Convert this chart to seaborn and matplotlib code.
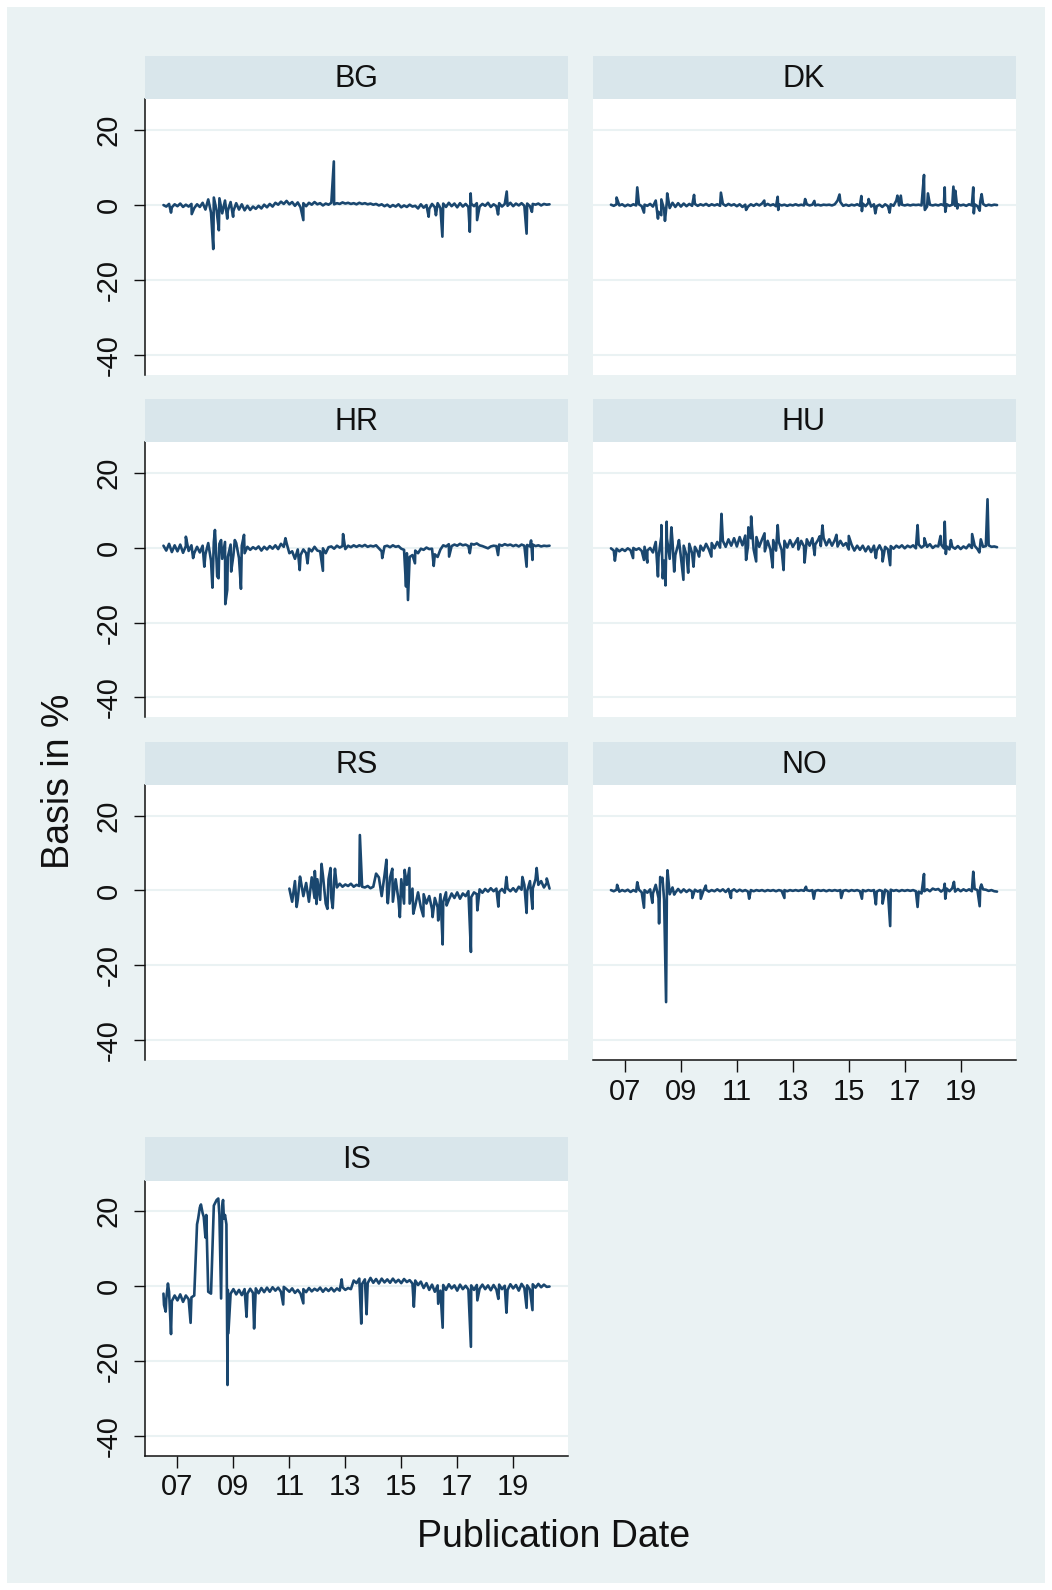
import numpy as np
import pandas as pd
import matplotlib
matplotlib.use("Agg")
import matplotlib.pyplot as plt
import seaborn as sns
from matplotlib.patches import Rectangle

# ---------------- data ----------------
countries = ["BG", "DK", "HR", "HU", "RS", "NO", "IS"]
x_tick_years = [2007, 2009, 2011, 2013, 2015, 2017, 2019]
x_tick_labels = ["07", "09", "11", "13", "15", "17", "19"]
y_ticks = [20, 0, -20, -40]
step = 0.1  # spacing (years) of the base readings

BG_start = 2006.5
BG_base = [0, -0.4, 0.3, -0.6, 0.2, -0.3, 0.4, -0.5, 0.1, -0.4,
           0.3, -0.8, 0.2, -0.5, 0.6, -1.2, 1.5, -2.0, 2.0, -1.5,
           1.8, -2.2, 1.2, -1.5, 0.8, -1.6, 0.5, -1.2, 0.2, -1.4,
           -0.2, -1.3, -0.4, -1.0, -0.2, -0.9, 0.1, -0.6, 0.3, -0.4,
           0.6, 0.1, 0.9, 0.3, 1.1, 0.2, 0.8, -0.2, 0.7, -0.6,
           0.5, -0.3, 0.6, 0.1, 0.8, 0.2, 0.5, -0.1, 0.4, 0.1,
           0.6, 0.2, 0.5, 0.3, 0.7, 0.4, 0.6, 0.3, 0.5, 0.2,
           0.6, 0.3, 0.5, 0.2, 0.4, 0.1, 0.3, -0.1, 0.2, -0.3,
           0.1, -0.5, 0.0, -0.4, 0.2, -0.6, -0.1, -0.5, 0.1, -0.4,
           -0.2, -0.9, 0.2, -0.7, 0.0, -1.0, 0.3, -0.6, 0.5, -0.8,
           0.4, -0.5, 0.6, -0.3, 0.4, -0.6, 0.5, -0.4, 0.3, -0.5,
           0.4, -0.3, 0.5, -0.4, 0.3, -0.2, 0.6, -0.5, 0.2, -0.3,
           0.5, -0.4, 0.3, -0.2, 0.6, -0.3, 0.4, -0.1, 0.5, -0.2,
           0.4, -0.3, 0.3, 0.1, 0.4, -0.1, 0.3, 0.1, 0.2]
BG_spike_dates = [2006.77, 2007.51, 2008.28, 2008.48, 2008.78, 2008.99, 2011.5, 2012.59,
                  2015.98, 2016.24, 2016.47, 2017.45, 2017.48, 2017.71, 2018.46, 2018.77,
                  2019.48, 2019.67]
BG_spike_values = [-2.0, -2.4, -11.7, -6.7, -3.6, -3.1, -4.0, 11.6,
                   -3.1, -2.7, -8.4, -7.1, 3.1, -4.0, -2.5, 3.6,
                   -7.6, -1.8]

DK_start = 2006.5
DK_base = [0.1, -0.2, 0.2, -0.1, 0.2, -0.3, 0.1, -0.2, 0.2, -0.1,
           0.2, -0.3, 0.1, -0.2, 0.3, -0.4, 1.2, -1.8, 1.5, -1.2,
           1.0, -0.8, 0.6, -0.5, 0.5, -0.4, 0.4, -0.3, 0.3, -0.2,
           0.3, -0.2, 0.2, -0.1, 0.3, -0.2, 0.2, -0.1, 0.2, -0.2,
           0.3, -0.2, 0.3, -0.1, 0.2, -0.3, 0.2, -0.5, 0.1, -0.4,
           0.2, -0.2, 0.3, -0.1, 0.4, -0.2, 0.3, -0.1, 0.2, -0.3,
           0.2, -0.1, 0.1, -0.2, 0.1, -0.1, 0.2, -0.1, 0.1, -0.1,
           0.2, -0.1, 0.1, -0.1, 0.1, -0.1, 0.1, 0.0, 0.1, -0.1,
           0.2, 1.2, 0.8, -0.2, 0.1, -0.2, 0.1, -0.1, 0.2, -0.2,
           0.4, -0.3, 0.6, -0.4, 0.2, -0.3, 0.1, -0.5, 0.2, -0.3,
           0.2, -0.2, 1.2, -0.1, 0.1, -0.1, 0.1, -0.1, 0.1, 0.0,
           0.1, -0.1, 0.6, -0.4, 0.1, -0.1, 0.1, -0.1, 0.2, -0.1,
           0.2, -0.2, 0.1, -0.2, 0.2, -0.1, 0.1, -0.2, 0.2, -0.1,
           0.2, -0.3, 0.9, 0.3, -0.2, 0.1, -0.1, 0.1, 0.0]
DK_spike_dates = [2006.70, 2007.44, 2007.68, 2008.18, 2008.30, 2008.43, 2008.51, 2009.47,
                  2010.43, 2011.33, 2011.98, 2012.46, 2012.48, 2013.44, 2013.77, 2014.67,
                  2015.45, 2015.47, 2015.71, 2015.95, 2016.46, 2016.74, 2016.86, 2017.69,
                  2017.72, 2017.83, 2018.43, 2018.45, 2018.74, 2018.81, 2018.88, 2019.45,
                  2019.47, 2019.68, 2019.75]
DK_spike_values = [2.0, 4.7, -2.0, -3.6, -2.7, -4.2, 3.1, 2.7,
                   3.3, -1.3, 1.2, 2.2, -1.3, 1.6, 1.1, 2.8,
                   2.4, -1.6, 1.6, -2.2, -2.0, 2.5, 2.5, 8.0,
                   -1.3, 3.1, 4.7, -1.8, 4.9, 3.8, -0.9, 4.7,
                   -2.2, -1.5, 2.9]

HR_start = 2006.5
HR_base = [0.5, -0.8, 1.0, -1.2, 0.6, -1.0, 0.8, -1.4, 0.4, -0.9,
           0.6, -1.5, 0.2, -1.3, 0.5, -1.8, 1.2, -3.5, 1.5, -4.0,
           1.0, -3.0, 1.5, -2.5, 0.8, -2.0, 1.2, -2.8, 0.5, -1.5,
           0.2, -0.6, 0.1, -0.4, 0.3, -0.8, 0.2, -0.5, 0.4, -0.3,
           0.6, -0.4, 1.0, 0.2, 1.2, -1.5, -1.0, -3.0, -0.5, -2.0,
           -0.5, -1.5, -0.3, -1.0, 0.2, -0.8, -1.0, -0.2, -1.5, 0.1,
           0.3, -0.3, 0.5, 0.0, 0.4, -0.4, 0.5, 0.1, 0.6, 0.2,
           0.6, 0.3, 0.7, 0.2, 0.5, 0.3, 0.6, -0.2, -1.0, 0.3,
           0.5, 0.1, 0.6, 0.2, 0.4, -0.3, -0.6, -1.5, -2.5, -2.0,
           -0.8, -1.5, -0.3, -0.6, 0.0, -0.4, -0.3, -1.8, -2.5, -0.5,
           0.6, 0.3, 0.9, 0.4, 0.8, 0.5, 1.0, 0.6, 0.8, 0.4,
           1.0, 0.8, 1.1, 0.6, 0.4, 0.1, -0.2, 0.3, 0.5, 0.4,
           0.8, 0.5, 0.9, 0.6, 0.8, 0.4, 0.7, 0.3, 0.8, 0.5,
           0.7, 0.3, 0.8, 0.4, 0.6, 0.3, 0.5, 0.4, 0.5]
HR_spike_dates = [2007.3, 2007.56, 2007.96, 2008.25, 2008.34, 2008.42, 2008.47, 2008.56,
                  2008.71, 2008.78, 2008.92, 2009.05, 2009.27, 2009.38, 2010.86, 2011.37,
                  2011.65, 2012.2, 2012.92, 2014.32, 2015.17, 2015.24, 2015.49, 2016.16,
                  2016.71, 2017.45, 2018.46, 2019.48, 2019.64, 2019.69]
HR_spike_values = [2.9, -2.8, -5.1, -10.7, 4.7, -7.7, -8.2, 2.0,
                   -15.1, -11.3, -6.4, 2.0, -11.0, 3.4, 2.5, -6.0,
                   -4.2, -6.2, 3.6, -2.8, -10.4, -14.0, -4.2, -4.9,
                   -2.4, -1.5, -2.0, -5.1, 1.9, -3.3]

HU_start = 2006.5
HU_base = [-0.2, -0.8, -0.3, -1.0, -0.4, -0.9, -0.2, -0.7, -0.1, -0.6,
           -0.2, -0.9, 0.2, -0.8, -0.1, -1.3, 1.5, -2.5, 3.0, -3.5,
           2.5, -3.0, 1.5, -2.0, 0.8, -2.5, 0.5, -2.0, 1.0, -1.5,
           0.2, -1.2, 0.5, -0.8, 1.0, -0.5, 1.2, -0.2, 1.5, 0.0,
           1.8, 0.2, 2.2, 0.5, 2.5, 0.3, 2.8, 0.6, 3.2, 0.5,
           2.5, -0.5, 2.8, 0.2, 2.2, -1.0, 1.8, -0.5, 2.0, -0.8,
           1.5, -0.6, 1.8, 0.0, 2.0, 0.2, 1.5, -0.5, 1.8, 0.3,
           2.2, 0.5, 2.5, 0.8, 2.0, 0.4, 2.6, 0.6, 2.2, 0.5,
           2.0, 0.3, 1.8, 0.5, 1.2, -0.5, 0.8, -0.8, 0.5, -0.6,
           0.5, -1.0, 0.3, -1.2, 0.5, -0.8, 0.6, -1.0, 0.2, -0.5,
           0.4, -0.3, 0.5, 0.0, 0.6, -0.2, 0.5, 0.1, 0.6, -0.2,
           0.8, 0.0, 0.6, 0.2, 0.9, -0.1, 0.5, 0.3, 0.8, -0.2,
           0.3, -0.5, 0.2, -0.3, 0.4, -0.4, 0.3, -0.2, 0.8, -0.1,
           0.5, -0.4, 0.9, 0.2, 0.4, 0.6, 0.2, 0.3, 0.1]
HU_spike_dates = [2006.64, 2007.29, 2007.68, 2007.80, 2008.18, 2008.30, 2008.35, 2008.45,
                  2008.49, 2008.66, 2008.76, 2008.93, 2009.09, 2009.26, 2009.45, 2009.65,
                  2010.09, 2010.45, 2011.33, 2011.41, 2011.51, 2011.69, 2011.99, 2012.28,
                  2012.46, 2012.67, 2013.18, 2013.42, 2013.78, 2013.96, 2014.06, 2014.56,
                  2015.0, 2015.97, 2016.21, 2016.48, 2017.46, 2017.70, 2018.28, 2018.43,
                  2018.47, 2018.65, 2019.41, 2019.67, 2019.72, 2019.96]
HU_spike_values = [-3.5, -2.8, -3.3, -4.0, -7.7, 6.0, -8.2, -10.1,
                   6.9, 5.4, -6.4, 2.0, -8.6, -6.7, -5.1, -2.4,
                   -2.4, 9.0, -3.3, 5.4, 8.3, -3.7, 3.8, -5.3,
                   6.0, -6.0, 2.5, -4.0, -2.0, 3.0, 5.9, 3.4,
                   3.1, -2.8, -3.7, -4.7, 6.0, 2.5, 3.1, 6.9,
                   -1.7, 2.0, 3.6, -1.3, 2.2, 12.9]

RS_start = 2011.0
RS_base = [0.5, -3.0, 2.5, -2.5, 3.0, -1.5, 2.0, -3.0, 3.5, -2.0,
           3.0, -2.5, 4.0, -3.5, 3.0, -2.0, 2.5, 0.8, 1.8, 1.0,
           1.6, 1.2, 1.8, 1.0, 1.5, 1.2, 1.0, 0.8, 1.2, 0.6,
           1.0, 4.5, 3.5, -1.5, 4.0, -2.0, 3.5, -3.0, 3.0, -2.5,
           3.0, -3.5, 1.5, -3.5, 0.5, -4.0, -0.5, -4.5, -1.0, -3.5,
           -1.5, -5.0, -2.0, -4.5, -1.0, -3.0, -0.5, -2.5, -0.8, -2.0,
           -0.5, -2.2, -0.8, -1.5, -0.2, -1.8, -0.5, -1.0, 0.3, -0.6,
           0.4, -0.3, 0.6, -0.2, 0.5, -0.4, 0.4, -0.6, 0.5, -0.2,
           0.6, -0.3, 1.0, 0.2, 1.5, -0.2, 2.5, 0.5, 3.0, 1.5,
           2.5, 0.8, 2.0, 0.5]
RS_spike_dates = [2011.26, 2011.38, 2011.91, 2011.97, 2012.15, 2012.36, 2012.47, 2012.55,
                  2012.63, 2013.52, 2014.47, 2014.52, 2014.68, 2014.95, 2015.12, 2015.29,
                  2015.43, 2015.79, 2016.12, 2016.32, 2016.48, 2016.62, 2017.49, 2017.72,
                  2018.47, 2018.76, 2019.33, 2019.48, 2019.69, 2019.84, 2020.2]
RS_spike_values = [-4.4, 3.7, 5.2, -3.6, 7.1, -4.9, 6.0, -4.7,
                   5.8, 14.8, 8.2, -3.4, 5.8, -7.1, 5.5, 6.0,
                   -6.2, -6.9, -7.1, -8.0, -14.4, -4.0, -16.4, -5.3,
                   -4.3, 3.6, 3.6, -6.0, -4.9, 6.0, 3.2]

NO_start = 2006.5
NO_base = [0.1, -0.2, 0.2, -0.3, 0.1, -0.2, 0.2, -0.4, 0.1, -0.3,
           0.2, -0.5, 0.1, -0.6, 0.3, -0.8, 1.5, -2.0, 2.5, -2.5,
           1.5, -1.0, 0.8, -0.6, 0.4, -0.5, 0.3, -0.4, 0.2, -0.3,
           0.2, -0.3, 0.1, -0.2, 0.2, -0.3, 0.1, -0.2, 0.3, -0.2,
           0.3, -0.4, 0.4, -0.2, 0.3, -0.3, 0.2, -0.2, 0.1, -0.3,
           0.1, -0.2, 0.1, -0.1, 0.1, -0.2, 0.1, -0.1, 0.1, -0.2,
           0.1, -0.1, 0.1, -0.2, 0.1, -0.1, 0.1, -0.1, 0.1, -0.1,
           0.1, -0.1, 0.1, -0.1, 0.1, -0.1, 0.1, -0.2, 0.1, -0.1,
           0.1, -0.1, 0.1, -0.1, 0.1, -0.2, 0.1, -0.1, 0.1, -0.2,
           0.1, -0.2, 0.1, -0.1, 0.1, -0.3, 0.1, -0.2, 0.2, -0.3,
           0.2, -0.1, 0.1, -0.2, 0.1, -0.1, 0.1, -0.1, 0.1, -0.2,
           -0.3, -0.8, -0.2, 0.3, -0.2, 0.5, 0.2, 0.4, -0.3, 0.3,
           0.5, -0.2, 0.6, -0.3, 0.4, -0.2, 0.3, -0.1, 0.3, -0.2,
           0.4, 0.1, 0.7, 0.3, 0.2, -0.1, 0.1, -0.2, -0.3]
NO_spike_dates = [2006.72, 2007.44, 2007.68, 2007.98, 2008.22, 2008.26, 2008.34, 2008.47,
                  2008.52, 2008.76, 2009.41, 2009.71, 2009.89, 2010.79, 2011.44, 2012.70,
                  2013.47, 2013.75, 2014.73, 2015.47, 2015.97, 2016.21, 2016.48, 2017.46,
                  2017.69, 2018.43, 2018.45, 2018.76, 2019.45, 2019.68, 2019.74]
NO_spike_values = [1.5, 2.2, -4.6, -3.3, -8.8, 3.6, 3.4, -29.8,
                   5.4, -1.1, -2.0, -2.2, 1.3, -2.0, -2.2, -2.0,
                   1.0, -2.2, -2.0, -2.2, -3.7, -3.5, -9.5, -4.4,
                   4.4, 1.8, -2.2, 2.3, 5.0, -4.2, 1.6]

IS_start = 2006.5
IS_base = [-2.0, -3.5, -1.5, -4.0, -2.5, -3.8, -2.2, -4.2, -2.5, -3.5,
           -3.0, -2.5, 16.5, 21.0, 19.5, 13.0, -1.5, -2.0, 21.5, 23.0,
           19.0, 21.5, 19.0, -1.0, -2.0, -0.8, -2.2, -1.0, -2.4, -0.8,
           -2.0, -0.7, -1.8, -0.6, -1.9, -0.5, -1.6, -0.4, -1.5, -0.3,
           -1.2, -0.4, -1.5, -0.2, -0.8, -1.5, -0.6, -1.8, -1.0, -2.0,
           -0.8, -1.6, -0.5, -1.4, -0.7, -1.2, -0.4, -1.5, -0.6, -1.3,
           -0.5, -1.4, -0.6, -1.2, -0.3, -1.0, -0.5, -0.8, 1.5, 0.8,
           2.0, 0.6, 1.8, 0.8, 2.2, 0.9, 1.9, 0.7, 2.0, 1.0,
           1.8, 0.9, 2.0, 1.0, 1.7, 0.8, 1.9, 1.1, 1.6, 0.7,
           1.5, 0.3, 1.2, -0.5, 0.8, -1.0, 0.4, -1.5, 0.2, -1.2,
           0.3, -1.0, 0.5, -0.6, 0.2, -1.2, 0.4, -0.8, 0.1, -0.9,
           0.2, -1.0, 0.3, -0.7, 0.4, -0.8, 0.2, -1.1, 0.3, -0.9,
           0.4, -0.8, 0.1, -1.0, 0.5, -0.6, 0.3, -1.2, 0.6, -0.5,
           0.2, -0.9, 0.5, -0.4, 0.6, -0.3, 0.4, -0.2, -0.1]
IS_spike_dates = [2006.52, 2006.58, 2006.66, 2006.77, 2007.47, 2007.74, 2007.84, 2007.94,
                  2008.03, 2008.46, 2008.56, 2008.63, 2008.66, 2008.75, 2008.79, 2008.82,
                  2009.47, 2009.74, 2010.78, 2011.5, 2012.87, 2013.57, 2013.76, 2015.45,
                  2016.32, 2016.48, 2017.49, 2017.72, 2018.47, 2018.76, 2019.48, 2019.69]
IS_spike_values = [-5.0, -6.8, 0.7, -12.8, -9.8, 18.0, 21.8, 18.5,
                   19.0, 23.4, -3.3, 23.0, 18.0, 16.5, -26.4, -12.6,
                   -8.2, -11.3, -4.9, -4.6, 1.8, -10.0, -7.5, -5.5,
                   -4.7, -11.1, -16.2, -3.8, -3.4, -7.1, -5.8, -6.4]

series = {
    "BG": (BG_start, BG_base, BG_spike_dates, BG_spike_values),
    "DK": (DK_start, DK_base, DK_spike_dates, DK_spike_values),
    "HR": (HR_start, HR_base, HR_spike_dates, HR_spike_values),
    "HU": (HU_start, HU_base, HU_spike_dates, HU_spike_values),
    "RS": (RS_start, RS_base, RS_spike_dates, RS_spike_values),
    "NO": (NO_start, NO_base, NO_spike_dates, NO_spike_values),
    "IS": (IS_start, IS_base, IS_spike_dates, IS_spike_values),
}

frames = []
for c in countries:
    start, base, sd, sv = series[c]
    d = start + step * np.arange(len(base))
    frames.append(pd.DataFrame({"country": c, "date": np.concatenate([d, sd]),
                                "basis": np.concatenate([base, sv])}))
df = pd.concat(frames, ignore_index=True).sort_values(["country", "date"], kind="mergesort")

# ---------------- styling ----------------
sns.set_theme(style="white")
plt.rcParams["font.family"] = ["Liberation Sans", "DejaVu Sans"]
plt.rcParams["axes.unicode_minus"] = False

BG_COL = "#EAF2F3"
STRIP_COL = "#D9E6EB"
LINE_COL = "#1A476F"
TXT = "#111111"

W, H = 1052, 1590
fig = plt.figure(figsize=(W / 100, H / 100), dpi=100)
fig.patch.set_facecolor("white")
fig.patches.append(Rectangle((7 / W, 1 - 1583 / H), (1045 - 7) / W, (1583 - 7) / H,
                             transform=fig.transFigure, facecolor=BG_COL,
                             edgecolor="none", zorder=-10))

col_x = {0: (145, 568), 1: (592.5, 1015.5)}
rows = {0: (56, 99.4, 375.4), 1: (398.7, 442.3, 717.3),
        2: (741.6, 785.2, 1060.2), 3: (1137.3, 1180.9, 1455.8)}
layout = {"BG": (0, 0), "DK": (0, 1), "HR": (1, 0), "HU": (1, 1),
          "RS": (2, 0), "NO": (2, 1), "IS": (3, 0)}
xaxis_panels = {"NO", "IS"}

for c in countries:
    r, col = layout[c]
    x0, x1 = col_x[col]
    st, sb, pb = rows[r]
    ax = fig.add_axes([x0 / W, 1 - pb / H, (x1 - x0) / W, (pb - sb) / H])
    ax.set_facecolor("white")
    sub = df[df["country"] == c]
    sns.lineplot(data=sub, x="date", y="basis", ax=ax, color=LINE_COL,
                 linewidth=1.9, estimator=None, sort=True, legend=False)
    ax.set_xlim(2005.84, 2020.96)
    ax.set_ylim(-45.3, 28.1)
    ax.set_yticks(y_ticks)
    ax.yaxis.grid(True, color=BG_COL, linewidth=1.5)
    ax.xaxis.grid(False)
    ax.set_axisbelow(True)
    ax.set_xlabel("")
    ax.set_ylabel("")
    for s in ["top", "right"]:
        ax.spines[s].set_visible(False)
    if col == 0:
        ax.spines["left"].set_visible(True)
        ax.spines["left"].set_color(TXT)
        ax.spines["left"].set_linewidth(1.1)
        ax.tick_params(axis="y", which="both", left=True, length=8, width=1.0,
                       color=TXT, labelsize=21, labelrotation=90, pad=8,
                       labelcolor=TXT)
        for lab in ax.get_yticklabels():
            lab.set_va("center")
    else:
        ax.spines["left"].set_visible(False)
        ax.tick_params(axis="y", left=False, labelleft=False)
    if c in xaxis_panels:
        ax.spines["bottom"].set_visible(True)
        ax.spines["bottom"].set_color(TXT)
        ax.spines["bottom"].set_linewidth(1.1)
        ax.set_xticks(x_tick_years)
        ax.set_xticklabels(x_tick_labels)
        ax.tick_params(axis="x", bottom=True, length=8.5, width=1.0, color=TXT,
                       labelsize=21, pad=4, labelcolor=TXT)
    else:
        ax.spines["bottom"].set_visible(False)
        ax.tick_params(axis="x", bottom=False, labelbottom=False)
    sax = fig.add_axes([x0 / W, 1 - sb / H, (x1 - x0) / W, (sb - st) / H])
    sax.set_facecolor(STRIP_COL)
    for s in sax.spines.values():
        s.set_visible(False)
    sax.set_xticks([])
    sax.set_yticks([])
    sax.text(0.5, 0.47, c, ha="center", va="center", fontsize=22, color=TXT,
             transform=sax.transAxes)

fig.text(554 / W, 1 - 1537 / H, "Publication Date", ha="center", va="center",
         fontsize=27, color=TXT)
fig.text(59 / W, 1 - 781 / H, "Basis in %", ha="center", va="center",
         rotation=90, fontsize=27, color=TXT)

fig.savefig("out.png", dpi=100, facecolor=fig.get_facecolor())
